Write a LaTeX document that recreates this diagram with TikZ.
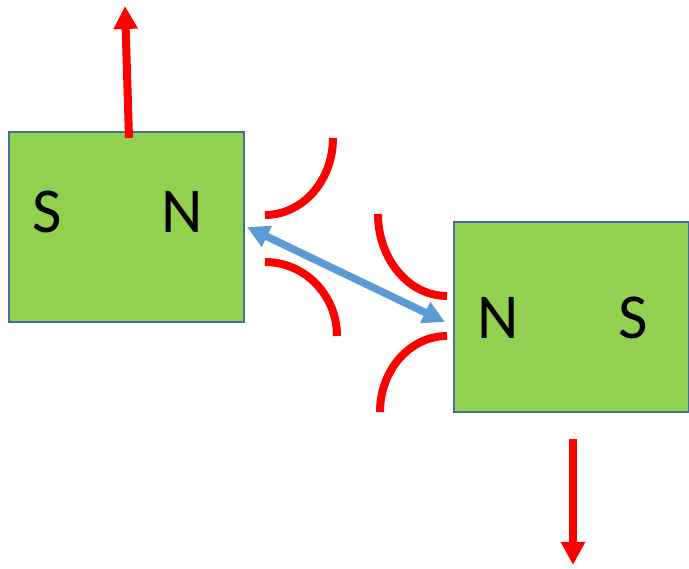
\documentclass[tikz,border=0pt]{standalone}
\usepackage{fontspec}
\setmainfont{Carlito}
\usetikzlibrary{arrows.meta,calc}

\definecolor{magnetgreen}{HTML}{92D050}
\definecolor{magnetedge}{HTML}{41719C}
\definecolor{forceblue}{HTML}{5B9BD5}

\begin{document}
\begin{tikzpicture}[x=1pt,y=1pt,
                    magnet/.style={rectangle,draw=magnetedge,line width=2pt,fill=magnetgreen,
                                   minimum width=235pt,minimum height=190pt,inner sep=0pt},
                    pole/.style={font=\fontsize{64}{70}\selectfont},
                    force/.style={red,line width=8pt,-{Triangle[length=23pt,width=23pt]}},
                    pull/.style={forceblue,line width=7.5pt,
                                 {Triangle[length=22pt,width=22pt]}-{Triangle[length=22pt,width=22pt]}},
                    field/.style={red,line width=8pt}]
  \useasboundingbox (0,0) rectangle (689,569);

  \node[magnet] (lbox) at (126.5,342) {};
  \node[magnet] (rbox) at (571.5,252) {};

  \node[pole] (ls) at (47,357)  {S};
  \node[pole] (ln) at (182,357) {N};
  \node[pole] (rn) at (498,251) {N};
  \node[pole] (rs) at (633,251) {S};

  \coordinate (uptail) at ([xshift=2.5pt,yshift=-7pt]lbox.north);
  \coordinate (uptip)  at (125,563);
  \coordinate (dntail) at ([xshift=1.5pt,yshift=-26pt]rbox.south);
  \coordinate (dntip)  at (573,4);

  \draw[force] (uptail) -- (uptip);
  \draw[force] (dntail) -- (dntip);
  \draw[pull] ([xshift=2pt]lbox.east) -- ([xshift=-8pt,yshift=-5pt]rbox.west);

  % field lines near the two N poles
  \draw[field] (333,431) arc[start angle=0,end angle=-90,x radius=68,y radius=77];
  \draw[field] (265,307) arc[start angle=90,end angle=0,x radius=72,y radius=74];
  \draw[field] (378,355) arc[start angle=180,end angle=270,x radius=69,y radius=82];
  \draw[field] (447,233) arc[start angle=90,end angle=180,x radius=67,y radius=76];
\end{tikzpicture}
\end{document}
